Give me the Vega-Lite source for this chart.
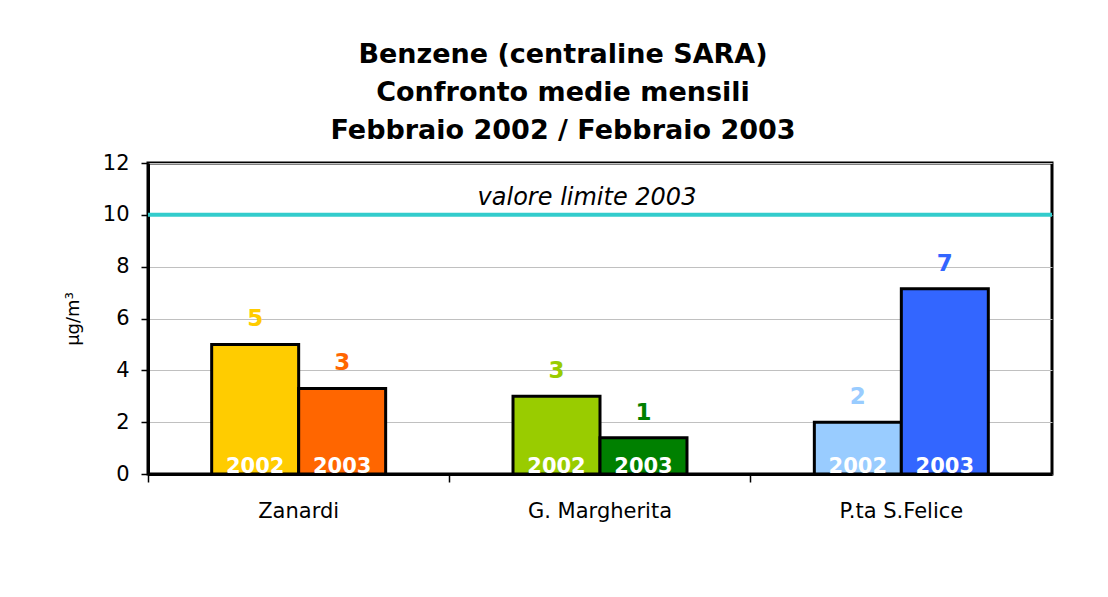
{
  "$schema": "https://vega.github.io/schema/vega-lite/v6.json",
  "autosize": "none",
  "width": 904,
  "height": 311,
  "padding": {"left": 148, "top": 163, "right": 56, "bottom": 123},
  "background": "#ffffff",
  "config": {
    "font": "DejaVu Sans",
    "view": {"stroke": "#000000", "strokeWidth": 3},
    "axis": {"labelFont": "DejaVu Sans", "titleFont": "DejaVu Sans", "labelColor": "#000000", "titleColor": "#000000"}
  },
  "title": {
    "text": ["Benzene (centraline SARA)", "Confronto medie mensili", "Febbraio 2002 / Febbraio 2003"],
    "font": "DejaVu Sans",
    "fontSize": 27,
    "fontWeight": "bold",
    "lineHeight": 38,
    "anchor": "middle",
    "dx": -37,
    "offset": 7,
    "color": "#000000"
  },
  "data": {
    "values": [
      {"stazione": "Zanardi", "anno": "2002", "key": "Zanardi 2002", "valore": 5.0},
      {"stazione": "Zanardi", "anno": "2003", "key": "Zanardi 2003", "valore": 3.3},
      {"stazione": "G. Margherita", "anno": "2002", "key": "G. Margherita 2002", "valore": 3.0},
      {"stazione": "G. Margherita", "anno": "2003", "key": "G. Margherita 2003", "valore": 1.4},
      {"stazione": "P.ta S.Felice", "anno": "2002", "key": "P.ta S.Felice 2002", "valore": 2.0},
      {"stazione": "P.ta S.Felice", "anno": "2003", "key": "P.ta S.Felice 2003", "valore": 7.15}
    ]
  },
  "encoding": {
    "x": {
      "field": "stazione",
      "type": "nominal",
      "sort": ["Zanardi", "G. Margherita", "P.ta S.Felice"],
      "scale": {"paddingInner": 0, "paddingOuter": 0},
      "axis": {
        "title": null,
        "labelAngle": 0,
        "labelFontSize": 21,
        "labelPadding": 18,
        "tickSize": 8,
        "tickColor": "#000000",
        "tickWidth": 1.5,
        "bandPosition": 0,
        "domainColor": "#000000",
        "domainWidth": 3
      }
    }
  },
  "layer": [
    {
      "mark": {"type": "bar", "stroke": "#000000", "strokeWidth": 3},
      "encoding": {
        "xOffset": {"field": "anno", "type": "nominal", "scale": {"paddingInner": 0, "paddingOuter": 0.732}},
        "y": {
          "field": "valore",
          "type": "quantitative",
          "scale": {"domain": [0, 12]},
          "axis": {
            "title": "µg/m³",
            "titleFontSize": 18,
            "titleFontWeight": "normal",
            "titlePadding": 20,
            "values": [0, 2, 4, 6, 8, 10, 12],
            "labelFontSize": 21,
            "labelPadding": 12,
            "tickSize": 7,
            "tickColor": "#000000",
            "tickWidth": 1.5,
            "domainColor": "#000000",
            "domainWidth": 3,
            "gridColor": "#C0C0C0",
            "gridWidth": 1
          }
        },
        "color": {
          "field": "key",
          "type": "nominal",
          "legend": null,
          "scale": {
            "domain": ["Zanardi 2002", "Zanardi 2003", "G. Margherita 2002", "G. Margherita 2003", "P.ta S.Felice 2002", "P.ta S.Felice 2003"],
            "range": ["#FFCC00", "#FF6600", "#99CC00", "#008000", "#99CCFF", "#3366FF"]
          }
        }
      }
    },
    {
      "mark": {"type": "text", "fontSize": 23, "fontWeight": "bold", "baseline": "alphabetic", "dy": -18},
      "encoding": {
        "xOffset": {"field": "anno", "type": "nominal", "scale": {"paddingInner": 0, "paddingOuter": 0.732}},
        "y": {"field": "valore", "type": "quantitative"},
        "text": {"field": "valore", "type": "quantitative", "format": ".0f"},
        "color": {"field": "key", "type": "nominal", "legend": null}
      }
    },
    {
      "mark": {"type": "text", "fontSize": 21, "fontWeight": "bold", "baseline": "alphabetic", "dy": -1, "color": "#ffffff"},
      "encoding": {
        "xOffset": {"field": "anno", "type": "nominal", "scale": {"paddingInner": 0, "paddingOuter": 0.732}},
        "y": {"datum": 0, "type": "quantitative"},
        "text": {"field": "anno", "type": "nominal"}
      }
    },
    {
      "data": {"values": [{"limite": 10, "testo": "valore limite 2003", "stazione": "G. Margherita"}]},
      "layer": [
        {
          "mark": {"type": "rule", "color": "#33CCCC", "strokeWidth": 4},
          "encoding": {
            "x": null,
            "y": {"field": "limite", "type": "quantitative"}
          }
        },
        {
          "mark": {"type": "text", "fontSize": 24, "fontStyle": "italic", "baseline": "alphabetic", "dy": -10, "dx": -13, "color": "#000000"},
          "encoding": {
            "y": {"field": "limite", "type": "quantitative"},
            "text": {"field": "testo", "type": "nominal"}
          }
        }
      ]
    }
  ]
}
